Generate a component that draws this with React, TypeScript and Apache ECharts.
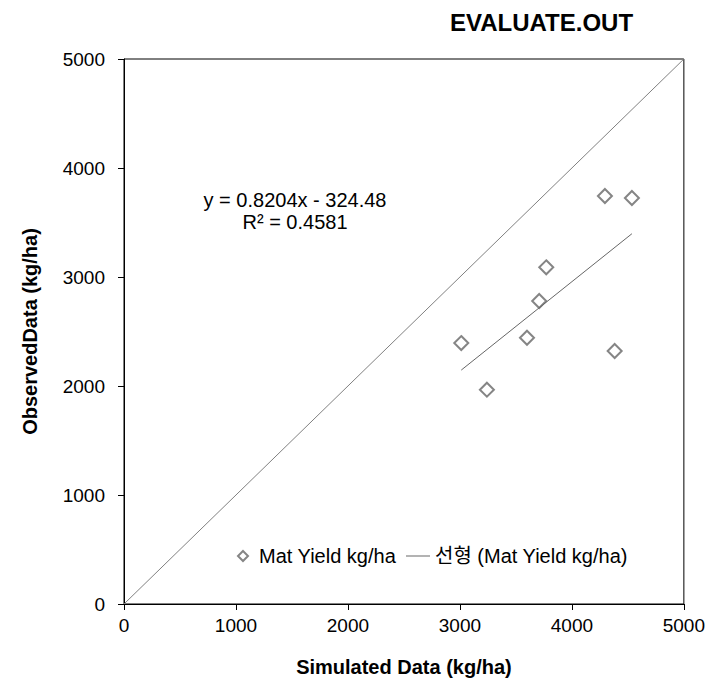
import React, { useEffect, useRef } from "react";
import * as echarts from "echarts";

const simulated = [3012, 3241, 3599, 3708, 3771, 4295, 4536, 4382];
const observed = [2394, 1966, 2443, 2780, 3089, 3743, 3725, 2321];
const trendLine = [
  [3012, 2146],
  [4536, 3397],
];
const oneToOne = [
  [0, 0],
  [5000, 5000],
];
const equationLines = ["y = 0.8204x - 324.48", "R² = 0.4581"];
const seriesName = "Mat Yield kg/ha";
const trendName = "선형 (Mat Yield kg/ha)";

const FONT = "Arial, 'Liberation Sans', 'Noto Sans CJK KR', sans-serif";

export default function App() {
  const ref = useRef<HTMLDivElement>(null);
  useEffect(() => {
    if (!ref.current) return;
    const chart = echarts.init(ref.current, undefined, { renderer: "svg", width: 708, height: 686 });
    const points = simulated.map((x, i) => [x, observed[i]]);
    chart.setOption({
      animation: false,
      backgroundColor: "#fff",
      textStyle: { fontFamily: FONT },
      title: {
        text: "EVALUATE.OUT",
        left: 450,
        top: 10,
        padding: 0,
        textStyle: { fontSize: 24, fontWeight: "bold", color: "#000", fontFamily: FONT },
      },
      grid: {
        left: 124,
        top: 59,
        right: 22,
        bottom: 82,
        show: true,
        borderColor: "#000",
        borderWidth: 1,
        backgroundColor: "transparent",
      },
      xAxis: {
        type: "value",
        min: 0,
        max: 5000,
        interval: 1000,
        name: "Simulated Data (kg/ha)",
        nameLocation: "middle",
        nameGap: 53,
        nameTextStyle: { fontSize: 20, fontWeight: "bold", color: "#000", fontFamily: FONT },
        axisLine: { show: true, lineStyle: { color: "#000", width: 1 } },
        axisTick: { show: true, length: 6, inside: false, lineStyle: { color: "#000" } },
        axisLabel: { fontSize: 19, color: "#000", margin: 12, fontFamily: FONT, formatter: (v: number) => String(v) },
        splitLine: { show: false },
      },
      yAxis: {
        type: "value",
        min: 0,
        max: 5000,
        interval: 1000,
        name: "ObservedData (kg/ha)",
        nameLocation: "middle",
        nameGap: 84,
        nameTextStyle: { fontSize: 20, fontWeight: "bold", color: "#000", fontFamily: FONT },
        axisLine: { show: true, lineStyle: { color: "#000", width: 1 } },
        axisTick: { show: true, length: 6, inside: false, lineStyle: { color: "#000" } },
        axisLabel: { fontSize: 19, color: "#000", margin: 19, fontFamily: FONT, formatter: (v: number) => String(v) },
        splitLine: { show: false },
      },
      legend: [
        {
          data: [seriesName],
          left: 237,
          top: 546,
          padding: 0,
          itemWidth: 10,
          itemHeight: 10,
          textStyle: { fontSize: 20, color: "#000", fontFamily: FONT, padding: [0, 0, 0, 6] },
        },
        {
          data: [{ name: trendName, icon: "rect" }],
          left: 406,
          top: 546,
          padding: 0,
          itemWidth: 24,
          itemHeight: 1,
          textStyle: { fontSize: 20, color: "#000", fontFamily: FONT },
        },
      ],
      graphic: [
        {
          type: "text",
          x: 295,
          y: 189,
          style: {
            text: equationLines.join("\n"),
            font: `20px ${FONT}`,
            fill: "#000",
            align: "center",
            verticalAlign: "top",
            lineHeight: 22,
          },
        },
      ],
      series: [
        {
          name: "1:1",
          type: "line",
          data: oneToOne,
          symbol: "none",
          lineStyle: { color: "#808080", width: 1 },
          silent: true,
        },
        {
          name: seriesName,
          type: "scatter",
          data: points,
          symbol: "emptyDiamond",
          symbolSize: 14,
          itemStyle: { color: "#666666", borderWidth: 1.5 },
        },
        {
          name: trendName,
          type: "line",
          data: trendLine,
          symbol: "none",
          lineStyle: { color: "#666666", width: 1 },
          itemStyle: { color: "#666666" },
        },
      ],
    });
    return () => chart.dispose();
  }, []);
  return (
    <div
      ref={ref}
      style={{ position: "fixed", left: 0, top: 0, width: 708, height: 686, overflow: "hidden" }}
    />
  );
}
